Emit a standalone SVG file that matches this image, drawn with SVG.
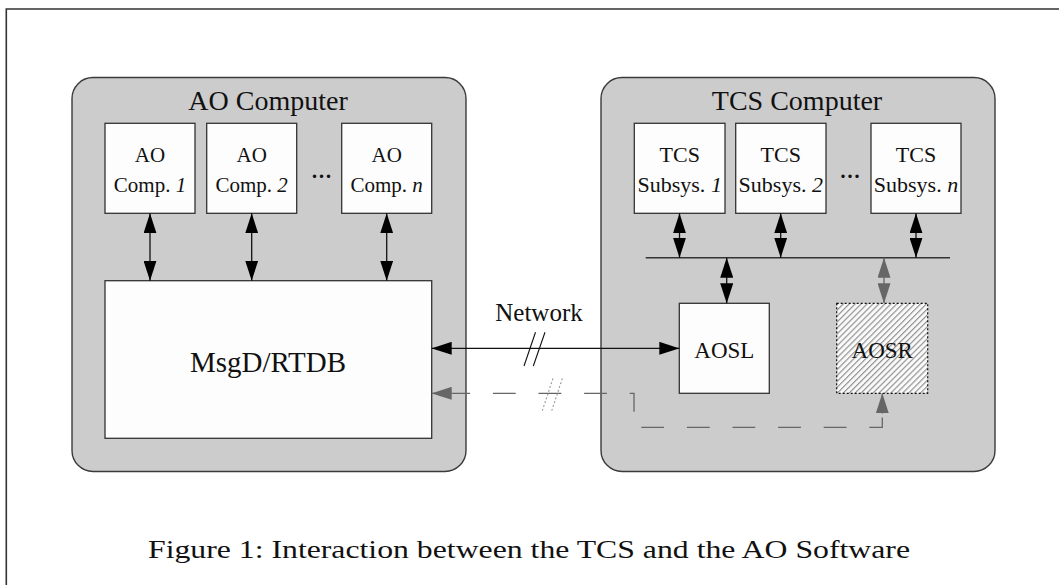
<svg xmlns="http://www.w3.org/2000/svg" width="1059" height="585" viewBox="0 0 1059 585">
  <style>
    .frame { fill: none; stroke: #333; stroke-width: 1.6; }
    .panel { fill: #cccccc; stroke: #3a3a3a; stroke-width: 1.4; }
    .box { fill: #fdfdfd; stroke: #333; stroke-width: 1.3; }
    .title { font-family: "Liberation Serif", "Times New Roman", serif; font-size: 28px; fill: #111; text-anchor: middle; }
    .lbl { font-family: "Liberation Serif", "Times New Roman", serif; font-size: 21px; fill: #111; text-anchor: middle; }
    .sub { font-size: 22px; }
    .mid { font-size: 23px; }
    .net { font-size: 25px; }
    .big { font-family: "Liberation Serif", "Times New Roman", serif; font-size: 29px; fill: #111; text-anchor: middle; }
    .cap { font-family: "Liberation Serif", "Times New Roman", serif; font-size: 26px; fill: #111; }
    .link { fill: none; stroke: #111; stroke-width: 1.3; marker-start: url(#ah); marker-end: url(#ah); }
    .glink { fill: none; stroke: #666; stroke-width: 1.3; }
    .dash { fill: none; stroke: #666; stroke-width: 1.3; stroke-dasharray: 22.8 22.8; stroke-dashoffset: 4.4; }
    .slash { fill: none; stroke: #111; stroke-width: 1.1; }
    .gslash { fill: none; stroke: #999; stroke-width: 1.1; stroke-dasharray: 2 2; }
    .bus { fill: none; stroke: #333; stroke-width: 1.4; }
  </style>
  <defs>
    <marker id="ah" viewBox="0 0 20 13" refX="20" refY="6.5" markerWidth="20" markerHeight="13" markerUnits="userSpaceOnUse" orient="auto-start-reverse">
      <path d="M0,0 L20,6.5 L0,13 z" fill="#000"/>
    </marker>
    <marker id="ahg" viewBox="0 0 20 13" refX="20" refY="6.5" markerWidth="20" markerHeight="13" markerUnits="userSpaceOnUse" orient="auto-start-reverse">
      <path d="M0,0 L20,6.5 L0,13 z" fill="#666"/>
    </marker>
    <pattern id="hatch" width="4.2" height="4.2" patternUnits="userSpaceOnUse" patternTransform="rotate(45)">
      <rect width="4.2" height="4.2" fill="#fafafa"/>
      <line x1="0.6" y1="0" x2="0.6" y2="4.2" stroke="#8a8a8a" stroke-width="1.1"/>
    </pattern>
  </defs>

  <rect width="1059" height="585" fill="#ffffff"/>
  <!-- page frame (only left and top edges fall inside the view) -->
  <path class="frame" d="M6.3,590 V9 H1065"/>

  <!-- computers -->
  <g id="ao-computer">
    <rect class="panel" x="72" y="77.5" width="394" height="394" rx="21"/>
    <text class="title" x="268" y="110">AO Computer</text>
  </g>
  <g id="tcs-computer">
    <rect class="panel" x="601" y="77.5" width="394" height="394" rx="21"/>
    <text class="title" x="797" y="110">TCS Computer</text>
  </g>

  <!-- AO components -->
  <g id="ao-comp-1">
    <rect class="box" x="105" y="123.3" width="90" height="90"/>
    <text class="lbl" x="150" y="161.5">AO</text>
    <text class="lbl" x="150" y="191.5">Comp. <tspan font-style="italic">1</tspan></text>
  </g>
  <g id="ao-comp-2">
    <rect class="box" x="206.7" y="123.3" width="90" height="90"/>
    <text class="lbl" x="251.7" y="161.5">AO</text>
    <text class="lbl" x="251.7" y="191.5">Comp. <tspan font-style="italic">2</tspan></text>
  </g>
  <g id="ao-dots">
    <text class="lbl" x="321.5" y="183" font-weight="bold">···</text>
  </g>
  <g id="ao-comp-n">
    <rect class="box" x="341.7" y="123.3" width="90" height="90"/>
    <text class="lbl" x="386.7" y="161.5">AO</text>
    <text class="lbl" x="386.7" y="191.5">Comp. <tspan font-style="italic">n</tspan></text>
  </g>
  <g id="msgd-rtdb">
    <rect class="box" x="105" y="280.7" width="326.7" height="157.6"/>
    <text class="big" x="268" y="372">MsgD/RTDB</text>
  </g>

  <!-- TCS subsystems -->
  <g id="tcs-subsys-1">
    <rect class="box" x="634.3" y="123.3" width="90.7" height="90"/>
    <text class="lbl sub" x="679.7" y="161.5">TCS</text>
    <text class="lbl sub" x="679.7" y="191.5">Subsys. <tspan font-style="italic">1</tspan></text>
  </g>
  <g id="tcs-subsys-2">
    <rect class="box" x="735.7" y="123.3" width="90.3" height="90"/>
    <text class="lbl sub" x="780.8" y="161.5">TCS</text>
    <text class="lbl sub" x="780.8" y="191.5">Subsys. <tspan font-style="italic">2</tspan></text>
  </g>
  <g id="tcs-dots">
    <text class="lbl" x="850" y="183" font-weight="bold">···</text>
  </g>
  <g id="tcs-subsys-n">
    <rect class="box" x="871" y="123.3" width="90" height="90"/>
    <text class="lbl sub" x="916" y="161.5">TCS</text>
    <text class="lbl sub" x="916" y="191.5">Subsys. <tspan font-style="italic">n</tspan></text>
  </g>
  <g id="aosl">
    <rect class="box" x="679.3" y="303.3" width="90" height="90"/>
    <text class="lbl mid" x="724.3" y="357.5">AOSL</text>
  </g>
  <g id="aosr">
    <rect x="836.7" y="303.3" width="91" height="90" fill="url(#hatch)"/>
    <text class="lbl mid" x="882.2" y="357.5">AOSR</text>
    <rect x="836.7" y="303.3" width="91" height="90" fill="none" stroke="#111" stroke-width="1.2" stroke-dasharray="2 2"/>
  </g>

  <!-- connectors -->
  <g id="connectors">
    <!-- AO components to MsgD/RTDB -->
    <path class="link" d="M150,213.3 V280.7"/>
    <path class="link" d="M251.7,213.3 V280.7"/>
    <path class="link" d="M386.7,213.3 V280.7"/>

    <!-- TCS bus -->
    <path class="bus" d="M645.7,257.7 H950"/>
    <path class="link" d="M679.5,213.3 V257.7"/>
    <path class="link" d="M780.7,213.3 V257.7"/>
    <path class="link" d="M916,213.3 V257.7"/>
    <path class="link" d="M726.7,257.7 V303.3"/>
    <path class="glink" d="M884,257.7 V303.3" marker-start="url(#ahg)" marker-end="url(#ahg)"/>

    <!-- network link MsgD/RTDB to AOSL -->
    <path class="link" d="M431.7,348.3 H679.3"/>
    <text class="lbl net" x="539" y="320.5">Network</text>
    <path class="slash" d="M524,366 L535.5,332.3 M533.3,366 L545,332.3"/>

    <!-- standby link MsgD/RTDB to AOSR -->
    <path class="dash" d="M451.7,393.3 H634 V427.3 H882.3 V413.3"/>
    <path class="glink" d="M451.7,393.3 H431.7" marker-end="url(#ahg)"/>
    <path class="glink" d="M882.3,413.6 V393.3" marker-end="url(#ahg)"/>
    <path class="gslash" d="M542.3,410.7 L553.3,377.3 M551.7,410.7 L562.7,377.3"/>
  </g>

  <!-- caption -->
  <text class="cap" x="148" y="558" textLength="762" lengthAdjust="spacingAndGlyphs">Figure 1: Interaction between the TCS and the AO Software</text>
</svg>
